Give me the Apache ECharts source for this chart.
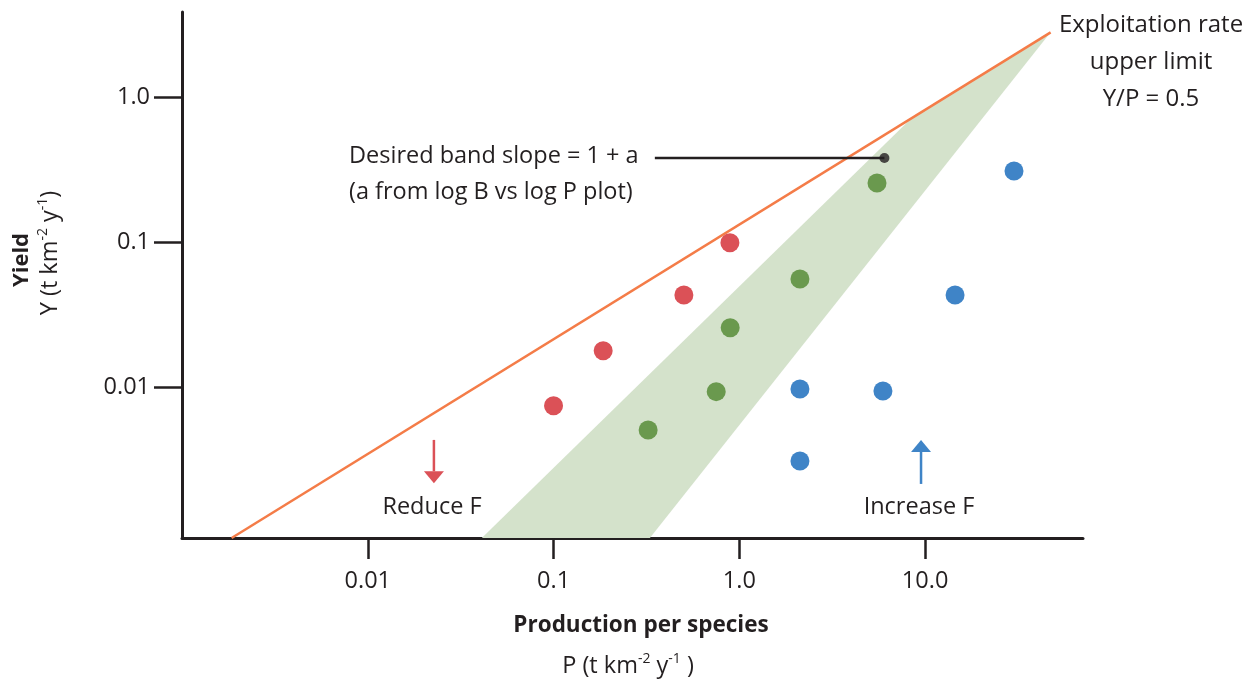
<!DOCTYPE html>
<html>
<head>
<meta charset="utf-8">
<script src="https://cdn.jsdelivr.net/npm/echarts@6/dist/echarts.min.js"></script>
<style>
  html, body { margin: 0; padding: 0; background: #ffffff; }
  #chart { width: 1255px; height: 683px; }
</style>
</head>
<body>
<div id="chart"></div>
<script>
// ---------- data (raw values, plotted on log10 scales) ----------
const xTickValues = [0.01, 0.1, 1, 10];
const xTickLabels = ['0.01', '0.1', '1.0', '10.0'];
const yTickValues = [0.01, 0.1, 1];
const yTickLabels = ['0.01', '0.1', '1.0'];
const xRange = [0.001, 70.8];
const yRange = [0.00091, 3.91];

// species above the desired band (reduce F)
const reducePoints = [[0.1, 0.00746], [0.185, 0.0179], [0.503, 0.0434], [0.89, 0.0997]];
// species inside the desired band
const bandSpeciesPoints = [[0.323, 0.00507], [0.751, 0.00933], [0.893, 0.0258], [2.12, 0.056], [5.51, 0.258]];
// species below the desired band (increase F)
const increasePoints = [[2.12, 0.0031], [2.12, 0.00973], [5.93, 0.00943], [14.5, 0.0434], [30.1, 0.312]];

// desired band outline (P, Y)
const bandOutline = [[0.0411, 0.00091], [8.6, 0.74], [47.4, 2.83], [0.330, 0.00091]];
// exploitation rate upper limit line (P, Y)
const limitLine = [[0.00185, 0.00091], [47.4, 2.83]];
// leader line for the band-slope note (P, Y)
const slopeLeader = [[0.351, 0.383], [6.04, 0.383]];
// arrows: [P, Y start, Y tip]
const reduceArrow = [0.0227, 0.00433, 0.00217];
const increaseArrow = [9.51, 0.00215, 0.00433];

// ---------- helpers ----------
const L = v => Math.log10(v);
const LP = p => [L(p[0]), L(p[1])];
const INK = '#231f20';
const FONT = '"Open Sans", "Liberation Sans", sans-serif';
const FS = 23.5;

function tickLabel(values, labels) {
  return function (v) {
    for (let i = 0; i < values.length; i++) {
      if (Math.abs(L(values[i]) - v) < 1e-6) return labels[i];
    }
    return '';
  };
}

function arrowRenderer(color) {
  return function (params, api) {
    const x = api.value(0);
    const s = api.coord([x, api.value(1)]);
    const t = api.coord([x, api.value(2)]);
    const dir = t[1] > s[1] ? 1 : -1;
    const headLen = 12, headHalf = 10;
    const base = [t[0], t[1] - dir * headLen];
    return {
      type: 'group',
      children: [
        { type: 'line', shape: { x1: s[0], y1: s[1], x2: base[0], y2: base[1] },
          style: { stroke: color, lineWidth: 2.5 } },
        { type: 'polygon', shape: { points: [[t[0], t[1]], [base[0] - headHalf, base[1]], [base[0] + headHalf, base[1]]] },
          style: { fill: color } }
      ]
    };
  };
}

const chart = echarts.init(document.getElementById('chart'), null, { renderer: 'canvas' });

const supStyle = { fontSize: 14, fontFamily: FONT, fill: INK, verticalAlign: 'top', lineHeight: 27 };

const option = {
  animation: false,
  backgroundColor: '#ffffff',
  grid: { left: 182, top: 12, width: 901, height: 526, containLabel: false },
  xAxis: {
    type: 'value',
    min: L(xRange[0]), max: L(xRange[1]),
    splitLine: { show: false },
    axisLine: { show: true, onZero: false, lineStyle: { color: INK, width: 3 } },
    axisTick: { show: true, inside: false, length: 21, customValues: xTickValues.map(L),
      lineStyle: { color: INK, width: 2.5 } },
    axisLabel: { show: true, margin: 31, customValues: xTickValues.map(L),
      formatter: tickLabel(xTickValues, xTickLabels),
      color: INK, fontSize: FS, fontFamily: FONT }
  },
  yAxis: {
    type: 'value',
    min: L(yRange[0]), max: L(yRange[1]),
    splitLine: { show: false },
    axisLine: { show: true, onZero: false, lineStyle: { color: INK, width: 3 } },
    axisTick: { show: true, inside: false, length: 28, customValues: yTickValues.map(L),
      lineStyle: { color: INK, width: 2.5 } },
    axisLabel: { show: true, margin: 32, customValues: yTickValues.map(L),
      formatter: tickLabel(yTickValues, yTickLabels),
      color: INK, fontSize: FS, fontFamily: FONT }
  },
  series: [
    {
      name: 'band', type: 'custom', z: 1, silent: true,
      data: bandOutline.map(LP),
      renderItem: function (params, api) {
        if (params.dataIndex !== 0) return null;
        const pts = bandOutline.map(p => api.coord(LP(p)));
        return { type: 'polygon', shape: { points: pts }, style: { fill: '#d4e2cb' } };
      }
    },
    {
      name: 'limit', type: 'line', z: 2, silent: true, symbol: 'none',
      data: limitLine.map(LP),
      lineStyle: { color: '#f47c48', width: 2.5 }
    },
    {
      name: 'leader', type: 'line', z: 3, silent: true, symbol: 'none',
      data: slopeLeader.map(LP),
      lineStyle: { color: INK, width: 2.5 }
    },
    {
      name: 'leaderDot', type: 'scatter', z: 4, silent: true, symbolSize: 10,
      data: [LP(slopeLeader[1])],
      itemStyle: { color: INK }
    },
    {
      name: 'reduce', type: 'scatter', z: 5, symbolSize: 19,
      data: reducePoints.map(LP), itemStyle: { color: '#db5157', opacity: 1 }
    },
    {
      name: 'inband', type: 'scatter', z: 5, symbolSize: 19,
      data: bandSpeciesPoints.map(LP), itemStyle: { color: '#6a994e', opacity: 1 }
    },
    {
      name: 'increase', type: 'scatter', z: 5, symbolSize: 19,
      data: increasePoints.map(LP), itemStyle: { color: '#3f84c7', opacity: 1 }
    },
    {
      name: 'reduceArrow', type: 'custom', z: 5, silent: true,
      data: [[L(reduceArrow[0]), L(reduceArrow[1]), L(reduceArrow[2])]],
      renderItem: arrowRenderer('#db5157')
    },
    {
      name: 'increaseArrow', type: 'custom', z: 5, silent: true,
      data: [[L(increaseArrow[0]), L(increaseArrow[1]), L(increaseArrow[2])]],
      renderItem: arrowRenderer('#3f84c7')
    }
  ],
  graphic: [
    // y axis titles
    { type: 'text', x: 22, y: 260, rotation: Math.PI / 2,
      style: { text: 'Yield', font: 'bold 22px ' + FONT, fill: INK, align: 'center', verticalAlign: 'middle' } },
    { type: 'text', x: 50, y: 253, rotation: Math.PI / 2,
      style: { text: 'Y (t km{s|-2} y{s|-1})', fontSize: FS, fontFamily: FONT, fill: INK,
        align: 'center', verticalAlign: 'middle', rich: { s: supStyle } } },
    // x axis titles
    { type: 'text', x: 641, y: 626,
      style: { text: 'Production per species', font: 'bold 22.5px ' + FONT, fill: INK, align: 'center', verticalAlign: 'middle' } },
    { type: 'text', x: 628, y: 666,
      style: { text: 'P (t km{s|-2} y{s|-1} )', fontSize: FS, fontFamily: FONT, fill: INK,
        align: 'center', verticalAlign: 'middle', rich: { s: supStyle } } },
    // annotations
    { type: 'text', x: 1151, y: 62,
      style: { text: 'Exploitation rate\nupper limit\nY/P = 0.5', font: '24px ' + FONT, lineHeight: 37,
        fill: INK, align: 'center', verticalAlign: 'middle' } },
    { type: 'text', x: 349, y: 156,
      style: { text: 'Desired band slope = 1 + a', font: FS + 'px ' + FONT, fill: INK, align: 'left', verticalAlign: 'middle' } },
    { type: 'text', x: 349, y: 192,
      style: { text: '(a from log B vs log P plot)', font: FS + 'px ' + FONT, fill: INK, align: 'left', verticalAlign: 'middle' } },
    { type: 'text', x: 432, y: 507,
      style: { text: 'Reduce F', font: FS + 'px ' + FONT, fill: INK, align: 'center', verticalAlign: 'middle' } },
    { type: 'text', x: 919, y: 507,
      style: { text: 'Increase F', font: FS + 'px ' + FONT, fill: INK, align: 'center', verticalAlign: 'middle' } }
  ]
};

chart.setOption(option);
</script>
</body>
</html>
